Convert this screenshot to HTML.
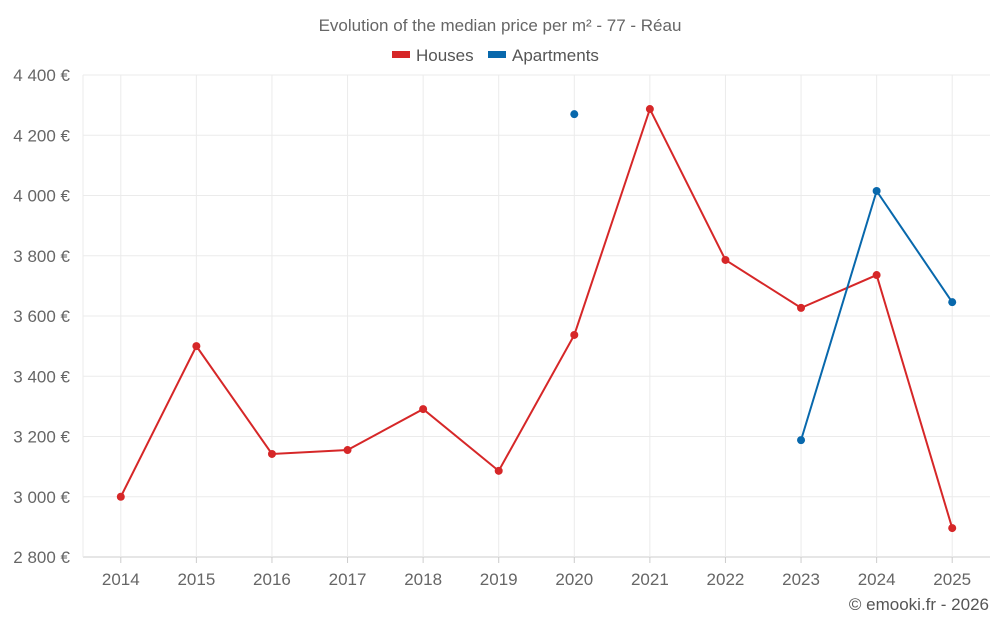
<!DOCTYPE html>
<html><head><meta charset="utf-8"><style>
body{margin:0;background:#fff;font-family:"Liberation Sans",sans-serif;}
svg text{font-family:"Liberation Sans",sans-serif;}
</style></head><body>
<svg id="chart" width="1000" height="625" xmlns="http://www.w3.org/2000/svg">
<text x="500" y="31" text-anchor="middle" font-size="17" fill="#666">Evolution of the median price per m² - 77 - Réau</text>
<g>
<g><rect x="392" y="51" width="18" height="7" fill="#d62728"/><text x="416" y="61" font-size="17" fill="#555">Houses</text></g>
<g><rect x="488" y="51" width="18" height="7" fill="#0868ac"/><text x="512" y="61" font-size="17" fill="#555">Apartments</text></g>
</g>
<g id="grid"></g>
<g id="axes"></g>
<g id="series"></g>
<text x="989" y="610" text-anchor="end" font-size="17" fill="#555">© emooki.fr - 2026</text>
</svg>
<script>
const years=["2014","2015","2016","2017","2018","2019","2020","2021","2022","2023","2024","2025"];
const houses=[3000,3500,3142,3155,3291,3086,3537,4287,3786,3627,3736,2896];
const apartments=[null,null,null,null,null,null,4270,null,null,3188,4015,3646];
const yTicks=[2800,3000,3200,3400,3600,3800,4000,4200,4400];
const NS="http://www.w3.org/2000/svg";
const L=83,R=990,T=75,B=557,yMin=2800,yMax=4400;
const bw=(R-L)/years.length;
function x(i){return L+(i+0.5)*bw;}
function y(v){return B-(v-yMin)/(yMax-yMin)*(B-T);}
function mk(tag,attrs,parent){const e=document.createElementNS(NS,tag);for(const k in attrs)e.setAttribute(k,attrs[k]);parent.appendChild(e);return e;}
const grid=document.getElementById('grid'),axes=document.getElementById('axes'),series=document.getElementById('series');
yTicks.forEach(t=>{
 const ln=mk('line',{x1:L,x2:R,y1:y(t),y2:y(t),stroke:t===yMin?'#ccc':'#ebebeb','stroke-width':1},grid);
 
 
 const tx=mk('text',{x:70,y:y(t)+6,'text-anchor':'end','font-size':17,fill:'#666'},axes);
 tx.textContent=String(t).replace(/(\d)(\d{3})$/,'$1 $2')+' €';
 
 
});
const l0=mk('line',{x1:L,x2:L,y1:T,y2:B,stroke:'#ebebeb'},grid);


years.forEach((yr,i)=>{
 const ln=mk('line',{x1:x(i),x2:x(i),y1:T,y2:B,stroke:'#ebebeb'},grid);
 
 
 const tk=mk('line',{x1:x(i),x2:x(i),y1:B,y2:B+6,stroke:'#ccc'},axes);
 
 
 const tx=mk('text',{x:x(i),y:585,'text-anchor':'middle','font-size':17,fill:'#666'},axes);
 tx.textContent=yr;
 
 
});
function draw(vals,color,name){
 let segs=[],cur=[];
 vals.forEach((v,i)=>{if(v==null){if(cur.length)segs.push(cur);cur=[];}else cur.push([x(i),y(v)]);});
 if(cur.length)segs.push(cur);
 segs.forEach(s=>{if(s.length>1){const p=mk('polyline',{points:s.map(a=>a.join(',')).join(' '),fill:'none',stroke:color,'stroke-width':2},series);
  
  }});
 vals.forEach((v,i)=>{if(v==null)return;const c=mk('circle',{cx:x(i),cy:y(v),r:4,fill:color},series);
  
  });
}
draw(houses,'#d62728','houses');
draw(apartments,'#0868ac','apartments');
</script>
</body></html>
